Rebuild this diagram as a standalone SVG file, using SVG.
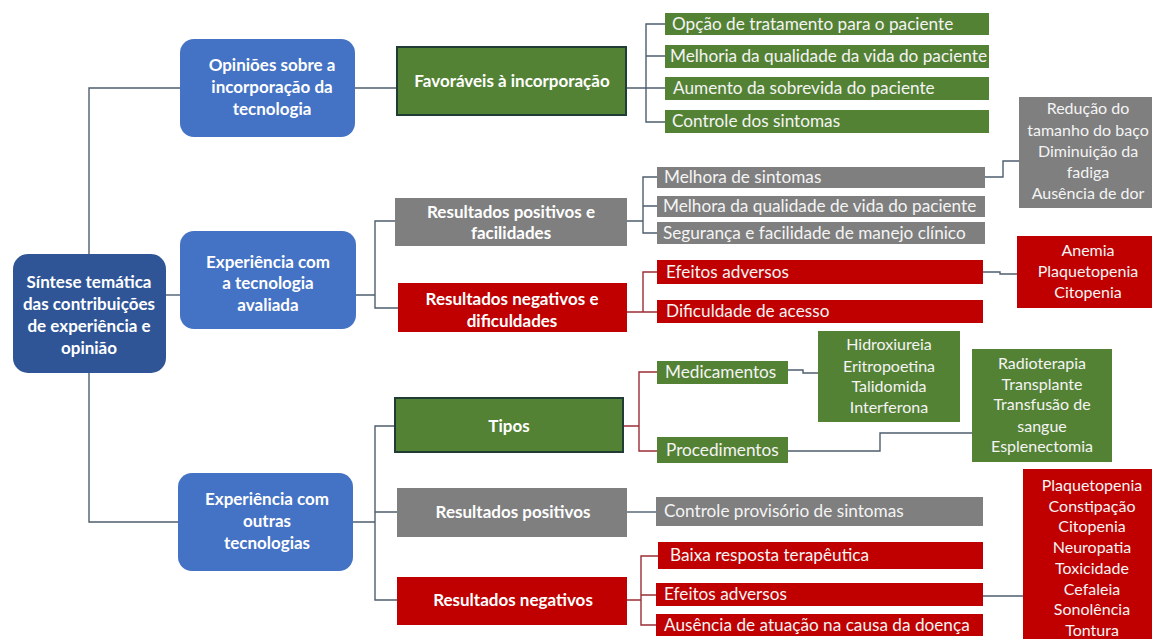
<svg xmlns="http://www.w3.org/2000/svg" width="1152" height="639" viewBox="0 0 1152 639">
<style>
.root{fill:#2f5597}
.blue{fill:#4472c4}
.g{fill:#548235}
.gb{fill:#548235;stroke:#1f3d35;stroke-width:2}
.gr{fill:#7f7f7f}
.rd{fill:#c00000}
text{font-family:Lato,"Open Sans",sans-serif;fill:#ffffff}
.b{font-weight:bold;font-size:17px;text-anchor:middle}
.i{font-size:17.2px;fill:#f4f4f4}
.l{font-size:16px;text-anchor:middle;fill:#f4f4f4}
.c{fill:none;stroke:#4d5e6e;stroke-width:1.4}
.cr{fill:none;stroke:#9b2d35;stroke-width:1.4}
</style>
<rect width="1152" height="639" fill="#ffffff"/>
<g id="connectors">
<path class="c" d="M180,88 H89 V522 H178"/>
<path class="c" d="M166,295 H180"/>
<path class="c" d="M355,88 H397"/>
<path class="c" d="M626,88 H646 M665,24 H646 V122 H665 M646,56 H665 M646,88 H665"/>
<path class="c" d="M356,295 H375 M395,221 H375 V308 H398"/>
<path class="c" d="M627,221 H643 M657,177 H643 V233 H657 M643,206 H657"/>
<path class="cr" d="M627,312 H643 M657,272 H643 V312 H657"/>
<path class="c" d="M983,272 H1000 V274 H1017"/>
<path class="c" d="M985,177 H1003 V161 H1019"/>
<path class="c" d="M353,522 H375 M395,426 H375 V600 H397 M375,512 H397"/>
<path class="cr" d="M623,426 H639 M657,372 H639 V451 H657"/>
<path class="c" d="M788,370 H803 V373 H818"/>
<path class="c" d="M788,451 H880 V433 H972"/>
<path class="c" d="M627,512 H656"/>
<path class="cr" d="M627,600 H641 M658,556 H641 V625 H656 M641,595 H656"/>
<path class="c" d="M983,596 H1023"/>
</g>
<g id="root">
<rect class="root" x="13" y="254" width="153" height="119" rx="15"/>
<text class="b"><tspan x="89" y="288">Síntese temática</tspan><tspan x="89" y="310">das contribuições</tspan><tspan x="89" y="332">de experiência e</tspan><tspan x="89" y="354">opinião</tspan></text>
</g>
<g id="opinioes">
<rect class="blue" x="180" y="39" width="175" height="98" rx="14"/>
<text class="b"><tspan x="272" y="71">Opiniões sobre a</tspan><tspan x="272" y="93">incorporação da</tspan><tspan x="272" y="115">tecnologia</tspan></text>
</g>
<g id="favoraveis">
<rect class="gb" x="397" y="47" width="229" height="68"/>
<text class="b" x="512" y="87">Favoráveis à incorporação</text>
</g>
<g id="fav-items">
<rect class="g" x="665" y="13" width="324" height="22"/>
<text class="i" x="672" y="30">Opção de tratamento para o paciente</text>
<rect class="g" x="665" y="45" width="324" height="23"/>
<text class="i" x="670" y="62">Melhoria da qualidade da vida do paciente</text>
<rect class="g" x="665" y="77" width="324" height="23"/>
<text class="i" x="673" y="94">Aumento da sobrevida do paciente</text>
<rect class="g" x="665" y="110" width="324" height="23"/>
<text class="i" x="672" y="127">Controle dos sintomas</text>
</g>
<g id="exp-avaliada">
<rect class="blue" x="180" y="231" width="176" height="98" rx="14"/>
<text class="b"><tspan x="268" y="268">Experiência com</tspan><tspan x="268" y="289">a tecnologia</tspan><tspan x="268" y="311">avaliada</tspan></text>
</g>
<g id="res-pos-fac">
<rect class="gr" x="395" y="198" width="232" height="48"/>
<text class="b"><tspan x="511" y="218">Resultados positivos e</tspan><tspan x="511" y="239">facilidades</tspan></text>
</g>
<g id="res-neg-dif">
<rect class="rd" x="398" y="283" width="229" height="49"/>
<text class="b"><tspan x="512" y="305">Resultados negativos e</tspan><tspan x="512" y="327">dificuldades</tspan></text>
</g>
<g id="pos-items">
<rect class="gr" x="657" y="167" width="328" height="21"/>
<text class="i" x="664" y="183">Melhora de sintomas</text>
<rect class="gr" x="657" y="196" width="328" height="21"/>
<text class="i" x="663" y="212">Melhora da qualidade de vida do paciente</text>
<rect class="gr" x="657" y="222" width="328" height="22"/>
<text class="i" x="663" y="239">Segurança e facilidade de manejo clínico</text>
</g>
<g id="sintomas-detalhe">
<rect class="gr" x="1019" y="97" width="133" height="111"/>
<text class="l"><tspan x="1088" y="114">Redução do</tspan><tspan x="1088" y="136">tamanho do baço</tspan><tspan x="1088" y="157">Diminuição da</tspan><tspan x="1088" y="178">fadiga</tspan><tspan x="1088" y="199">Ausência de dor</tspan></text>
</g>
<g id="neg-items">
<rect class="rd" x="657" y="260" width="326" height="24"/>
<text class="i" x="666" y="278">Efeitos adversos</text>
<rect class="rd" x="657" y="300" width="326" height="23"/>
<text class="i" x="666" y="317">Dificuldade de acesso</text>
</g>
<g id="efeitos-detalhe">
<rect class="rd" x="1017" y="236" width="135" height="72"/>
<text class="l"><tspan x="1088" y="256">Anemia</tspan><tspan x="1088" y="277">Plaquetopenia</tspan><tspan x="1088" y="298">Citopenia</tspan></text>
</g>
<g id="exp-outras">
<rect class="blue" x="178" y="473" width="175" height="98" rx="14"/>
<text class="b"><tspan x="267" y="505">Experiência com</tspan><tspan x="267" y="527">outras</tspan><tspan x="267" y="549">tecnologias</tspan></text>
</g>
<g id="tipos">
<rect class="gb" x="395" y="398" width="228" height="54"/>
<text class="b" x="509" y="432">Tipos</text>
</g>
<g id="tipos-items">
<rect class="g" x="657" y="361" width="131" height="23"/>
<text class="i" x="665" y="378">Medicamentos</text>
<rect class="g" x="657" y="437" width="131" height="26"/>
<text class="i" x="666" y="456">Procedimentos</text>
</g>
<g id="medicamentos-detalhe">
<rect class="g" x="818" y="331" width="142" height="91"/>
<text class="l"><tspan x="889" y="350">Hidroxiureia</tspan><tspan x="889" y="372">Eritropoetina</tspan><tspan x="889" y="392">Talidomida</tspan><tspan x="889" y="413">Interferona</tspan></text>
</g>
<g id="procedimentos-detalhe">
<rect class="g" x="972" y="349" width="140" height="113"/>
<text class="l"><tspan x="1042" y="369">Radioterapia</tspan><tspan x="1042" y="390">Transplante</tspan><tspan x="1042" y="410">Transfusão de</tspan><tspan x="1042" y="432">sangue</tspan><tspan x="1042" y="452">Esplenectomia</tspan></text>
</g>
<g id="res-positivos">
<rect class="gr" x="397" y="488" width="230" height="49"/>
<text class="b" x="513" y="518">Resultados positivos</text>
</g>
<g id="controle">
<rect class="gr" x="656" y="497" width="327" height="29"/>
<text class="i" x="664" y="517">Controle provisório de sintomas</text>
</g>
<g id="res-negativos">
<rect class="rd" x="397" y="577" width="230" height="48"/>
<text class="b" x="513" y="606">Resultados negativos</text>
</g>
<g id="resneg-items">
<rect class="rd" x="658" y="542" width="325" height="27"/>
<text class="i" x="670" y="561">Baixa resposta terapêutica</text>
<rect class="rd" x="656" y="583" width="327" height="23"/>
<text class="i" x="664" y="600">Efeitos adversos</text>
<rect class="rd" x="656" y="614" width="327" height="22"/>
<text class="i" x="664" y="631">Ausência de atuação na causa da doença</text>
</g>
<g id="efeitos-outros-detalhe">
<rect class="rd" x="1023" y="469" width="129" height="170"/>
<text class="l"><tspan x="1092" y="491">Plaquetopenia</tspan><tspan x="1092" y="512">Constipação</tspan><tspan x="1092" y="532">Citopenia</tspan><tspan x="1092" y="553">Neuropatia</tspan><tspan x="1092" y="574">Toxicidade</tspan><tspan x="1092" y="595">Cefaleia</tspan><tspan x="1092" y="615">Sonolência</tspan><tspan x="1092" y="636">Tontura</tspan></text>
</g>
</svg>
